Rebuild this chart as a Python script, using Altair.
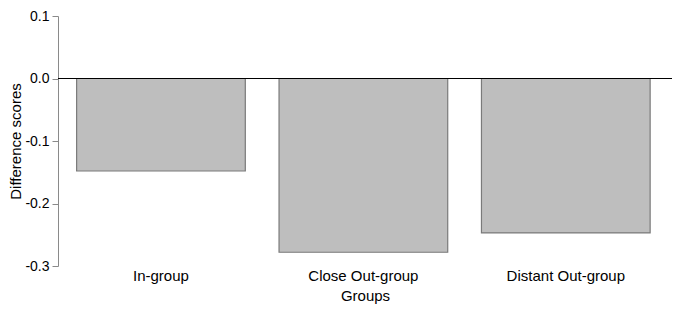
import altair as alt
import pandas as pd

groups = ["In-group", "Close Out-group", "Distant Out-group"]
scores = [-0.148, -0.278, -0.247]
y_ticks = [-0.3, -0.2, -0.1, 0.0, 0.1]
zero_line = [0.0]

FONT = "Liberation Sans"
PLOT_W = 614
PLOT_H = 250

df = pd.DataFrame({"group": groups, "score": scores})
y_scale = alt.Scale(domain=[-0.3, 0.1], nice=False, zero=False)

y_axis = alt.Axis(
    values=y_ticks,
    labelExpr="(datum.value < -0.0001 ? '-' : '') + format(abs(datum.value), '.1f')",
    domainColor="#8a8a8a", tickColor="#8a8a8a", tickSize=6,
    labelPadding=3, grid=False,
    titleX=-38, titleY=PLOT_H / 2, titleAngle=270, titleAlign="center",
    titleBaseline="alphabetic",
)

bars = alt.Chart(df).mark_bar(
    fill="#bebebe", stroke="#7a7a7a", strokeWidth=1.2
).encode(
    x=alt.X(
        "group:N", sort=groups, title="Groups",
        scale=alt.Scale(paddingInner=1 / 6, paddingOuter=0.1, align=0.46),
        axis=alt.Axis(
            domain=False, ticks=False, labelAngle=0, labelPadding=2,
            titlePadding=5, grid=False,
        ),
    ),
    y=alt.Y("score:Q", scale=y_scale, title="Difference scores", axis=y_axis),
    y2=alt.datum(0),
)

zero = alt.Chart(pd.DataFrame({"v": zero_line})).mark_rule(
    color="#000", strokeWidth=1
).encode(y=alt.Y("v:Q", scale=y_scale, title="Difference scores", axis=y_axis))

chart = alt.layer(bars, zero).properties(
    width=PLOT_W, height=PLOT_H,
    autosize=alt.AutoSizeParams(type="none"),
    padding={"left": 50, "top": 8, "right": 0, "bottom": 38},
).configure_view(
    stroke=None
).configure_axis(
    labelFont=FONT, titleFont=FONT, labelColor="#000", titleColor="#000",
    titleFontWeight="normal",
).configure_axisX(
    labelFontSize=15, titleFontSize=15,
).configure_axisY(
    labelFontSize=14, titleFontSize=15,
)

chart.save("out.html", embed_options={"renderer": "svg", "actions": False})
